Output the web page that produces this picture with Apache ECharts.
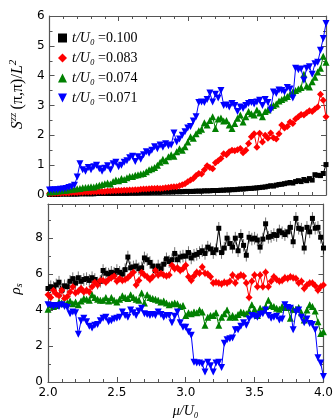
<!DOCTYPE html>
<html>
<head>
<meta charset="utf-8">
<script src="https://cdn.jsdelivr.net/npm/echarts@6/dist/echarts.min.js"></script>
<style>
html, body { margin: 0; padding: 0; background: #fff; }
#chart { width: 336px; height: 420px; }
</style>
</head>
<body>
<div id="chart"></div>
<script>
var names = ['t/U0 =0.100', 't/U0 =0.083', 't/U0 =0.074', 't/U0 =0.071'];
var tValues = ['0.100', '0.083', '0.074', '0.071'];
var colors = ['#000000', '#ff0000', '#008000', '#0000ff'];

var mu = [
  2.00, 2.02, 2.04, 2.06, 2.08, 2.10, 2.12, 2.14, 2.16, 2.18,
  2.20, 2.22, 2.24, 2.26, 2.28, 2.30, 2.32, 2.34, 2.36, 2.38,
  2.40, 2.42, 2.44, 2.46, 2.48, 2.50, 2.52, 2.54, 2.56, 2.58,
  2.60, 2.62, 2.64, 2.66, 2.68, 2.70, 2.72, 2.74, 2.76, 2.78,
  2.80, 2.82, 2.84, 2.86, 2.88, 2.90, 2.92, 2.94, 2.96, 2.98,
  3.00, 3.02, 3.04, 3.06, 3.08, 3.10, 3.12, 3.14, 3.16, 3.18,
  3.20, 3.22, 3.24, 3.26, 3.28, 3.30, 3.32, 3.34, 3.36, 3.38,
  3.40, 3.42, 3.44, 3.46, 3.48, 3.50, 3.52, 3.54, 3.56, 3.58,
  3.60, 3.62, 3.64, 3.66, 3.68, 3.70, 3.72, 3.74, 3.76, 3.78,
  3.80, 3.82, 3.84, 3.86, 3.88, 3.90, 3.92, 3.94, 3.96, 3.98,
  4.00
];

// S^zz(pi,pi)/L^2, top panel
var sBlack = [
  0.02, 0.02, 0.02, 0.02, 0.03, 0.03, 0.03, 0.03, 0.03, 0.03,
  0.03, 0.04, 0.04, 0.04, 0.04, 0.04, 0.04, 0.05, 0.05, 0.05,
  0.05, 0.05, 0.05, 0.05, 0.06, 0.06, 0.06, 0.06, 0.06, 0.07,
  0.07, 0.07, 0.07, 0.08, 0.08, 0.08, 0.08, 0.09, 0.09, 0.09,
  0.09, 0.10, 0.10, 0.10, 0.10, 0.11, 0.11, 0.11, 0.11, 0.12,
  0.12, 0.12, 0.12, 0.13, 0.13, 0.13, 0.14, 0.14, 0.14, 0.15,
  0.15, 0.15, 0.16, 0.16, 0.17, 0.17, 0.18, 0.18, 0.19, 0.20,
  0.20, 0.21, 0.22, 0.22, 0.23, 0.24, 0.25, 0.26, 0.27, 0.29,
  0.31, 0.30, 0.33, 0.35, 0.36, 0.38, 0.40, 0.42, 0.40, 0.45,
  0.48, 0.45, 0.52, 0.48, 0.55, 0.50, 0.68, 0.66, 0.65, 0.72,
  1.02
];
var sRed = [
  0.05, 0.05, 0.06, 0.06, 0.06, 0.07, 0.07, 0.07, 0.08, 0.08,
  0.08, 0.09, 0.09, 0.10, 0.10, 0.10, 0.11, 0.11, 0.12, 0.12,
  0.12, 0.13, 0.13, 0.14, 0.14, 0.15, 0.15, 0.16, 0.16, 0.17,
  0.17, 0.18, 0.18, 0.19, 0.20, 0.20, 0.21, 0.22, 0.22, 0.23,
  0.22, 0.23, 0.24, 0.25, 0.27, 0.28, 0.28, 0.31, 0.34, 0.38,
  0.44, 0.50, 0.55, 0.65, 0.72, 0.70, 0.85, 0.98, 0.92, 0.88,
  1.08, 1.15, 1.22, 1.38, 1.35, 1.45, 1.50, 1.48, 1.52, 1.56,
  1.42, 1.50, 1.73, 1.95, 2.05, 1.60, 2.07, 1.78, 2.00, 1.90,
  2.08, 1.92, 1.88, 2.05, 2.35, 2.25, 2.30, 2.45, 2.40, 2.55,
  2.62, 2.70, 2.68, 2.76, 2.82, 2.80, 2.88, 2.95, 3.38, 3.18,
  2.62
];
var sGreen = [
  0.10, 0.11, 0.12, 0.13, 0.14, 0.15, 0.16, 0.18, 0.19, 0.20,
  0.21, 0.22, 0.24, 0.25, 0.26, 0.28, 0.27, 0.30, 0.33, 0.35,
  0.38, 0.40, 0.37, 0.45, 0.50, 0.48, 0.55, 0.52, 0.58, 0.62,
  0.62, 0.66, 0.68, 0.70, 0.72, 0.78, 0.85, 0.88, 0.92, 1.00,
  1.10, 1.20, 1.15, 1.28, 1.35, 1.30, 1.45, 1.55, 1.50, 1.62,
  1.78, 1.95, 1.90, 2.05, 2.15, 2.20, 2.42, 2.35, 2.50, 2.62,
  2.23, 2.55, 2.58, 2.48, 2.50, 2.35, 2.23, 2.40, 2.57, 2.68,
  2.45, 2.62, 2.80, 2.72, 2.68, 2.85, 2.75, 2.62, 2.80, 2.85,
  2.95, 3.00, 3.05, 3.15, 3.20, 3.25, 3.30, 3.38, 3.45, 3.50,
  3.55, 3.60, 4.05, 3.65, 3.62, 3.80, 3.95, 4.12, 4.25, 4.65,
  4.45
];
var sBlue = [
  0.17, 0.17, 0.18, 0.18, 0.19, 0.20, 0.22, 0.25, 0.28, 0.33,
  0.60, 1.05, 0.85, 0.80, 0.92, 0.85, 0.95, 1.00, 0.88, 0.80,
  0.90, 0.98, 0.85, 1.05, 1.10, 0.95, 1.00, 1.10, 1.15, 1.25,
  1.30, 1.12, 1.28, 1.20, 1.35, 1.45, 1.40, 1.50, 1.62, 1.55,
  1.68, 1.60, 1.72, 1.65, 1.68, 2.08, 1.78, 1.88, 2.00, 2.12,
  2.25, 2.30, 2.48, 2.62, 3.10, 3.12, 3.10, 3.20, 3.42, 3.12,
  3.38, 3.25, 3.50, 3.00, 3.02, 2.95, 3.07, 3.00, 2.80, 2.95,
  2.90, 3.00, 3.07, 3.10, 3.05, 3.12, 3.18, 3.00, 3.20, 3.10,
  2.85, 3.45, 3.40, 3.52, 3.50, 3.45, 3.60, 3.55, 3.25, 4.25,
  4.20, 4.22, 3.85, 4.25, 4.30, 4.05, 4.40, 4.45, 4.85, 5.25,
  5.75
];

// rho_s, bottom panel
var rBlack = [
  5.20, 5.30, 5.25, 5.40, 5.55, 5.10, 5.35, 5.30, 5.60, 5.75,
  5.50, 5.80, 5.60, 5.70, 5.75, 5.65, 5.80, 5.70, 5.50, 5.60,
  6.20, 6.05, 6.00, 6.10, 6.05, 6.20, 6.10, 6.00, 6.25, 6.95,
  6.35, 6.40, 6.45, 6.30, 6.35, 6.90, 6.80, 6.65, 6.45, 6.20,
  6.45, 6.30, 6.55, 6.85, 6.70, 6.80, 7.15, 6.80, 6.95, 7.00,
  7.00, 7.20, 6.90, 7.05, 7.10, 7.20, 7.30, 7.15, 7.50, 7.40,
  7.20, 7.35, 8.55, 7.20, 7.45, 8.00, 7.70, 7.50, 8.00, 7.30,
  8.15, 7.60, 7.05, 8.05, 7.95, 8.00, 7.90, 7.50, 7.95, 8.80,
  8.05, 8.10, 8.20, 8.15, 8.40, 8.30, 8.20, 8.35, 8.60, 7.80,
  9.10, 8.55, 8.50, 7.45, 8.60, 8.35, 9.10, 8.55, 8.60, 8.05,
  7.45
];
var rRed = [
  4.85, 4.70, 5.10, 4.90, 4.80, 5.10, 4.65, 4.75, 5.00, 5.30,
  4.95, 5.05, 5.20, 5.00, 5.10, 5.00, 5.30, 5.55, 5.40, 5.65,
  5.65, 5.55, 5.70, 5.80, 5.90, 5.60, 5.75, 5.65, 5.70, 5.80,
  5.95, 6.10, 5.40, 5.65, 6.10, 5.95, 5.85, 5.70, 5.85, 6.20,
  5.95, 6.05, 5.95, 5.90, 5.95, 6.50, 6.30, 6.35, 6.20, 6.30,
  6.50, 5.85, 5.65, 5.90, 6.10, 6.05, 6.40, 6.05, 6.00, 5.85,
  5.50, 5.55, 5.50, 5.45, 5.55, 5.50, 5.60, 5.95, 5.50, 5.85,
  5.95, 5.90, 5.50, 4.70, 5.60, 5.95, 5.30, 5.95, 5.30, 6.10,
  5.30, 5.60, 5.85, 5.70, 5.60, 5.65, 5.80, 5.75, 5.85, 5.80,
  5.75, 5.50, 5.60, 5.20, 5.40, 5.50, 5.50, 5.35, 5.10, 5.30,
  5.40
];
var rGreen = [
  4.05, 4.30, 4.20, 4.25, 4.45, 4.40, 4.35, 4.40, 4.50, 4.35,
  4.45, 4.30, 4.50, 4.65, 4.60, 4.55, 4.85, 4.70, 4.60, 4.55,
  4.55, 4.70, 4.50, 4.70, 4.55, 4.45, 4.60, 4.80, 4.70, 4.65,
  4.85, 4.70, 4.60, 4.55, 4.95, 4.40, 4.85, 4.70, 4.65, 4.60,
  4.55, 4.45, 4.50, 4.40, 4.30, 4.35, 4.40, 4.35, 4.20, 4.25,
  3.70, 3.85, 3.80, 3.90, 3.85, 4.00, 3.90, 3.15, 3.60, 3.70,
  3.70, 3.85, 3.15, 3.60, 3.80, 4.00, 3.60, 3.70, 3.60, 3.75,
  3.90, 3.85, 3.80, 3.95, 4.30, 4.05, 3.70, 4.10, 4.00, 4.20,
  4.55, 4.25, 4.20, 4.10, 4.05, 4.20, 4.15, 4.15, 3.55, 4.05,
  4.05, 4.15, 3.85, 3.45, 4.00, 4.30, 4.20, 3.95, 3.35, 2.70,
  2.80
];
var rBlue = [
  4.30, 4.25, 4.20, 4.25, 4.20, 4.30, 4.20, 4.15, 3.80, 3.90,
  3.85, 2.65, 3.40, 3.55, 3.35, 3.10, 3.00, 3.15, 3.20, 3.40,
  3.55, 3.60, 3.35, 3.40, 3.50, 3.55, 3.60, 3.90, 3.70, 3.60,
  4.00, 3.85, 3.70, 3.95, 4.10, 3.80, 3.75, 3.70, 3.75, 3.70,
  3.90, 3.75, 3.60, 3.70, 3.70, 3.30, 3.65, 3.90, 3.30, 3.05,
  3.05, 2.80, 2.60, 1.10, 1.05, 1.05, 1.00, 0.55, 1.10, 0.90,
  0.55, 1.05, 1.10, 0.80, 2.15, 2.35, 2.40, 2.45, 2.90, 2.90,
  3.10, 3.30, 3.15, 3.50, 3.70, 3.65, 3.60, 3.75, 3.80, 4.00,
  3.70, 3.55, 3.60, 3.65, 3.45, 3.50, 4.30, 4.15, 4.10, 2.90,
  3.90, 4.00, 3.60, 3.30, 3.50, 3.25, 3.20, 2.90, 1.35, 1.05,
  0.30
];
// typical half-width of the rho_s error bars per series
var rhoErr = [0.35, 0.22, 0.15, 0.12];

var sSeries = [sBlack, sRed, sGreen, sBlue];
var rSeries = [rBlack, rRed, rGreen, rBlue];
var symbols = ['rect', 'diamond', 'triangle', 'path://M0,0L10,0L5,10Z'];
var symbolSizes = [5, 7, 7, 7];

var chart = echarts.init(document.getElementById('chart'), null, { renderer: 'canvas' });

var frame = '#555555';
var tickFont = 'DejaVu Sans';
var mathFont = 'Liberation Serif';

function xAxis(grid, pos, labels) {
  return {
    type: 'value', gridIndex: grid, position: pos,
    min: 2, max: 4, interval: 0.5,
    axisLine: { show: true, onZero: false, lineStyle: { color: frame, width: 1.2 } },
    axisTick: { show: true, inside: true, length: 5, lineStyle: { color: frame } },
    minorTick: { show: true, splitNumber: 5, length: 3, lineStyle: { color: frame } },
    splitLine: { show: false },
    axisLabel: {
      show: labels, color: '#000', fontFamily: tickFont, fontSize: 12, margin: 5,
      formatter: function (v) { return v.toFixed(1); }
    }
  };
}

function yAxis(grid, pos, max, interval, minor, labels) {
  return {
    type: 'value', gridIndex: grid, position: pos,
    min: 0, max: max, interval: interval,
    axisLine: { show: true, lineStyle: { color: frame, width: 1.2 } },
    axisTick: { show: true, inside: true, length: 5, lineStyle: { color: frame } },
    minorTick: { show: true, splitNumber: minor, length: 3, lineStyle: { color: frame } },
    splitLine: { show: false },
    axisLabel: {
      show: labels, color: '#000', fontFamily: tickFont, fontSize: 12, margin: 5,
      showMaxLabel: max % interval === 0,
      formatter: function (v) { return String(v); }
    }
  };
}

var xAxes = [xAxis(0, 'bottom', false), xAxis(0, 'top', false), xAxis(1, 'bottom', true), xAxis(1, 'top', false)];
xAxes[2].name = 'μ/U₀';
xAxes[2].nameLocation = 'middle';
xAxes[2].nameGap = 22;
xAxes[2].nameTextStyle = { fontFamily: mathFont, fontStyle: 'italic', fontSize: 14, color: '#000' };

var yAxes = [yAxis(0, 'left', 6, 1, 2, true), yAxis(0, 'right', 6, 1, 2, false),
             yAxis(1, 'left', 9.9, 2, 2, true), yAxis(1, 'right', 9.9, 2, 2, false)];
yAxes[0].name = '{i|S}{sup|zz} {n|(π,π)/}{i|L}{sup|2}';
yAxes[0].nameLocation = 'middle';
yAxes[0].nameRotate = 90;
yAxes[0].nameGap = 21;
yAxes[0].nameTextStyle = {
  color: '#000',
  padding: [0, 0, 0, 22],
  rich: {
    i: { fontFamily: mathFont, fontStyle: 'italic', fontSize: 16, verticalAlign: 'bottom', color: '#000' },
    n: { fontFamily: mathFont, fontSize: 16, verticalAlign: 'bottom', color: '#000' },
    sup: { fontFamily: mathFont, fontStyle: 'italic', fontSize: 11, verticalAlign: 'bottom', padding: [0, 0, 7, 0], color: '#000' }
  }
};
yAxes[2].name = '{i|ρ}{sub|s}';
yAxes[2].nameLocation = 'middle';
yAxes[2].nameRotate = 90;
yAxes[2].nameGap = 22;
yAxes[2].nameTextStyle = {
  color: '#000',
  padding: [0, 0, 0, 8],
  rich: {
    i: { fontFamily: mathFont, fontStyle: 'italic', fontSize: 15, verticalAlign: 'top', color: '#000' },
    sub: { fontFamily: mathFont, fontStyle: 'italic', fontSize: 10, verticalAlign: 'top', padding: [6, 0, 0, 0], color: '#000' }
  }
};

var series = [];
for (var k = 0; k < 4; k++) {
  (function (k) {
    var topData = mu.map(function (m, i) { return [m, sSeries[k][i]]; });
    var botData = mu.map(function (m, i) { return [m, rSeries[k][i]]; });
    var errData = mu.map(function (m, i) { return [m, rSeries[k][i], rhoErr[k]]; });
    series.push({
      name: names[k], type: 'line', xAxisIndex: 0, yAxisIndex: 0, data: topData,
      symbol: symbols[k], symbolSize: symbolSizes[k], showAllSymbol: true,
      lineStyle: { color: colors[k], width: 1 }, itemStyle: { color: colors[k] },
      z: 3 + k
    });
    series.push({
      type: 'custom', xAxisIndex: 2, yAxisIndex: 2, data: errData, clip: true, z: 2,
      renderItem: function (params, api) {
        var x = api.value(0), y = api.value(1), e = api.value(2);
        var p1 = api.coord([x, y - e]);
        var p2 = api.coord([x, y + e]);
        return { type: 'line', shape: { x1: p1[0], y1: p1[1], x2: p2[0], y2: p2[1] },
                 style: { stroke: colors[k], lineWidth: 1, opacity: 0.55 } };
      }
    });
    series.push({
      name: names[k], type: 'line', xAxisIndex: 2, yAxisIndex: 2, data: botData,
      symbol: symbols[k], symbolSize: symbolSizes[k], showAllSymbol: true,
      lineStyle: { color: colors[k], width: 1 }, itemStyle: { color: colors[k] },
      z: 3 + k
    });
  })(k);
}

chart.setOption({
  animation: false,
  backgroundColor: '#fff',
  grid: [
    { left: 48, right: 10, top: 16, height: 179 },
    { left: 48, right: 10, top: 204, height: 178 }
  ],
  legend: {
    orient: 'vertical', left: 53, top: 26, itemGap: 6, itemWidth: 9, itemHeight: 9,
    data: names.map(function (n, k) { return { name: n, icon: symbols[k] }; }),
    formatter: function (n) {
      var k = names.indexOf(n);
      return '{i|t/U₀} {n|=' + tValues[k] + '}';
    },
    textStyle: {
      color: '#000', lineHeight: 14,
      rich: {
        i: { fontFamily: mathFont, fontStyle: 'italic', fontSize: 14, color: '#000' },
        n: { fontFamily: mathFont, fontSize: 14, color: '#000' }
      }
    }
  },
  xAxis: xAxes,
  yAxis: yAxes,
  series: series
});
</script>
</body>
</html>
